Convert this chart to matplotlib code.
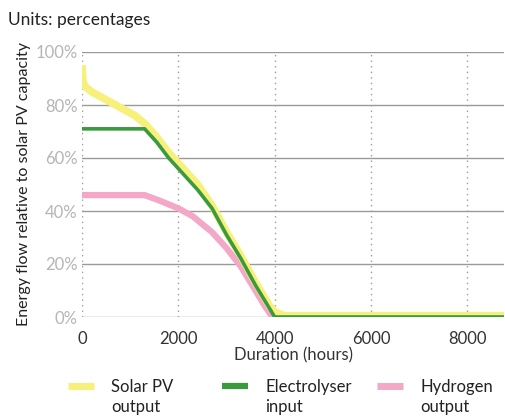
import matplotlib
matplotlib.use("Agg")
import matplotlib.pyplot as plt
from matplotlib.ticker import FuncFormatter

plt.rcParams['font.family'] = ['Lato', 'DejaVu Sans']

solar_x = [0, 20, 60, 200, 500, 800, 1100, 1300, 1500, 1800, 2100, 2400, 2700, 3000, 3300, 3600, 3900, 4000, 4200, 8760]
solar_y = [95, 89, 87, 85, 82, 79, 76, 73, 69, 62, 56, 50, 42, 32, 23, 13, 4, 2, 0.5, 0.5]

elec_x = [0, 1300, 1550, 1800, 2100, 2400, 2700, 3000, 3300, 3600, 3900, 4000, 8760]
elec_y = [71, 71, 66, 60, 54, 48, 41, 31, 22, 12, 3, 0, 0]

hyd_x = [0, 1300, 1600, 2000, 2300, 2700, 3000, 3300, 3600, 3800, 3950, 8760]
hyd_y = [46, 46, 44, 41, 38, 32, 26, 19, 10, 4, 0, 0]

xticks = [0, 2000, 4000, 6000, 8000]
yticks = [0, 20, 40, 60, 80, 100]

legend_first = ['Solar PV', 'Electrolyser', 'Hydrogen']
legend_second = ['output', 'input', 'output']

W, H = 506, 417
fig = plt.figure(figsize=(W / 100, H / 100), dpi=100)
ax = fig.add_axes([82 / W, 1 - 317 / H, 422 / W, 265 / H])

l1, = ax.plot(solar_x, solar_y, color='#f7f07a', lw=5.5, solid_capstyle='butt', zorder=3)
l2, = ax.plot(elec_x, elec_y, color='#3a9a3e', lw=2.6, solid_capstyle='butt', zorder=4)
l3, = ax.plot(hyd_x, hyd_y, color='#f4a7c6', lw=4.5, solid_capstyle='butt', zorder=2)
lines = [l1, l2, l3]

ax.set_xlim(0, 8760)
ax.set_ylim(0, 100)
ax.set_xticks(xticks)
ax.set_yticks(yticks)
ax.yaxis.set_major_formatter(FuncFormatter(lambda v, p: f"{int(v)}%"))
for s in ax.spines.values():
    s.set_visible(False)
ax.set_axisbelow(True)
ax.grid(axis='y', color='#9a9a9a', lw=1.0, ls='-')
ax.grid(axis='x', color='#9a9a9a', lw=1.0, ls=(0, (1, 3)))
ax.tick_params(axis='both', length=0)
ax.tick_params(axis='y', colors='#b5b5b5', labelsize=12, pad=3)
ax.tick_params(axis='x', labelcolor='#333333', labelsize=12, pad=10)
ax.set_xlabel('Duration (hours)', fontsize=12, color='#333333', labelpad=0)
ax.set_ylabel('Energy flow relative to solar PV capacity', fontsize=11.5, color='#222222', labelpad=3)

fig.text(8 / W, 1 - 20 / H, 'Units: percentages', fontsize=12.5, color='#222222', va='center', ha='left')

handle_left = [68, 222, 377]
legs = []
for ln, first, hx in zip(lines, legend_first, handle_left):
    leg = fig.legend([ln], [first], loc='center left', bbox_to_anchor=(hx / W, 1 - 387 / H),
                     frameon=False, fontsize=12, handlelength=1.55, handletextpad=1.05,
                     borderpad=0, borderaxespad=0, labelcolor='#222222')
    for hl in leg.get_lines():
        hl.set_linewidth(5 if ln is not l2 else 4.5)
    legs.append(leg)

fig.canvas.draw()
inv = fig.transFigure.inverted()
for leg, second in zip(legs, legend_second):
    bb = leg.get_texts()[0].get_window_extent()
    x0 = inv.transform((bb.x0, bb.y0))[0]
    fig.text(x0, 1 - 407 / H, second, fontsize=12, color='#222222', va='center', ha='left')

fig.savefig('out.png', dpi=100)
